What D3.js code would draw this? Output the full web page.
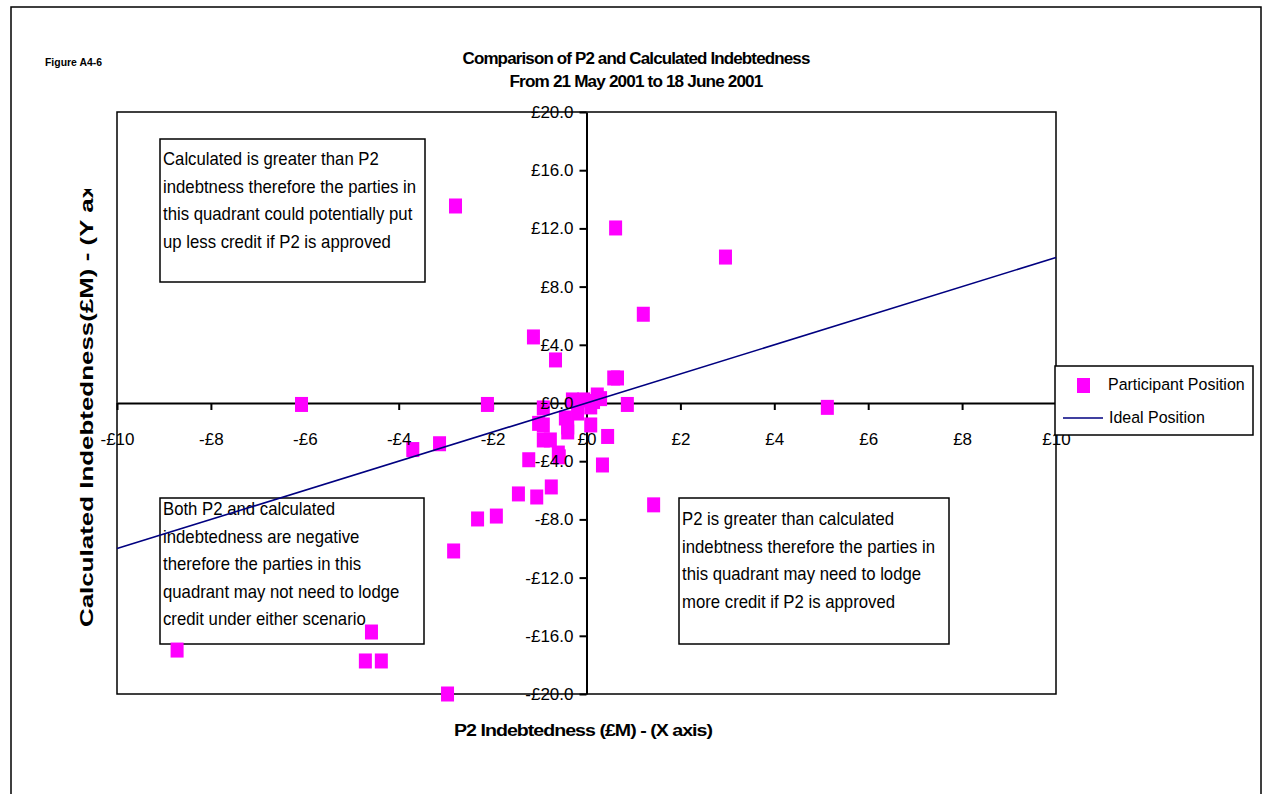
<!DOCTYPE html>
<html><head><meta charset="utf-8">
<script src="https://cdn.jsdelivr.net/npm/d3@7"></script>
<style>
body{margin:0;background:#fff;}
svg{display:block;}
text{font-family:"Liberation Sans",Arial,sans-serif;fill:#000;}
</style>
</head><body>
<svg id="c" width="1265" height="794"></svg>
<script>
// ---- data ----
const participantX = [-2.79, 0.62, 2.96, 1.21, -1.13, -0.66, -6.07, -2.11, 5.13, 0.87,
  0.58, 0.66, -3.70, -3.13, -1.23, -0.58, 0.45, 0.34, 1.43, -1.45,
  -1.06, -0.75, -2.32, -1.92, -2.83, -8.72, -4.58, -4.71, -4.37, -2.96,
  -0.92, -0.30, -0.06, 0.23, 0.09, -0.19, -0.45, -0.92, -0.40, 0.09,
  -0.92, -0.77, -0.60, 0.30, -1.02, -0.40, 0.15];
const participantY = [13.54, 12.03, 10.03, 6.10, 4.54, 2.96, -0.10, -0.10, -0.30, -0.10,
  1.72, 1.72, -3.20, -2.80, -3.90, -3.70, -2.30, -4.26, -7.00, -6.25,
  -6.46, -5.77, -7.97, -7.77, -10.17, -16.98, -15.74, -17.73, -17.73, -20.00,
  -0.34, 0.21, 0.21, 0.55, -0.27, -0.69, -1.03, -1.51, -1.99, -1.51,
  -2.54, -2.54, -3.44, 0.30, -1.40, -1.65, 0.10];
const idealX = [-10, 10];
const idealY = [-10, 10];
const xTicks = [-10, -8, -6, -4, -2, 0, 2, 4, 6, 8, 10];
const yTicks = [-20, -16, -12, -8, -4, 0, 4, 8, 12, 16, 20];
const titleLines = ["Comparison of P2 and Calculated Indebtedness", "From 21 May 2001 to 18 June 2001"];
const legendLabels = ["Participant Position", "Ideal Position"];
const box1Lines = ["Calculated is greater than P2", "indebtness therefore the parties in", "this quadrant could potentially put", "up less credit if P2 is approved"];
const box2Lines = ["Both P2 and calculated", "indebtedness are negative", "therefore the parties in this", "quadrant may not need to lodge", "credit under either scenario"];
const box3Lines = ["P2 is greater than calculated", "indebtness therefore the parties in", "this quadrant may need to lodge", "more credit if P2 is approved"];

// ---- layout ----
const svg = d3.select("#c");
const L = 117, R = 1056, T = 112, B = 694;
const x = d3.scaleLinear().domain([-10, 10]).range([L, R]);
const y = d3.scaleLinear().domain([-20, 20]).range([B, T]);
const PINK = "#FF00FF", NAVY = "#000080";

const fmtX = v => (v < 0 ? "-£" : "£") + Math.abs(v);
const fmtY = v => (v < 0 ? "-£" : "£") + Math.abs(v).toFixed(1);

// outer frame
svg.append("rect").attr("x", 11).attr("y", 7).attr("width", 1250).attr("height", 800)
  .attr("fill", "none").attr("stroke", "#000").attr("stroke-width", 1.5);

// figure label
svg.append("text").attr("x", 45).attr("y", 66).attr("font-size", 10).attr("font-weight", "bold")
  .attr("textLength", 57).attr("lengthAdjust", "spacingAndGlyphs").text("Figure A4-6");

// title
const titleW = [347, 253];
titleLines.forEach((t, i) => {
  svg.append("text").attr("x", 636).attr("y", 64 + i * 23).attr("text-anchor", "middle")
    .attr("font-size", 16).attr("font-weight", "bold").attr("letter-spacing", -0.8)
    .attr("textLength", titleW[i]).attr("lengthAdjust", "spacingAndGlyphs").text(t);
});

// plot border
svg.append("rect").attr("x", L).attr("y", T).attr("width", R - L).attr("height", B - T)
  .attr("fill", "none").attr("stroke", "#000").attr("stroke-width", 1.5);

// axis lines + ticks (labels drawn later on top)
const xAxisLines = svg.append("g").attr("transform", `translate(0,${y(0)})`)
  .call(d3.axisBottom(x).tickValues(xTicks).tickSize(7).tickSizeOuter(0).tickFormat(""));
const yAxisLines = svg.append("g").attr("transform", `translate(${x(0)},0)`)
  .call(d3.axisLeft(y).tickValues(yTicks).tickSize(7).tickSizeOuter(0).tickFormat(""));
[xAxisLines, yAxisLines].forEach(g => {
  g.selectAll("path,line").attr("stroke", "#000").attr("stroke-width", 2);
});

// text boxes (no fill)
function textBox(bx, by, bw, bh, lines, firstBase) {
  svg.append("rect").attr("x", bx).attr("y", by).attr("width", bw).attr("height", bh)
    .attr("fill", "none").attr("stroke", "#000").attr("stroke-width", 1.5);
  lines.forEach((t, i) => {
    svg.append("text").attr("transform", `translate(${bx + 3},${firstBase + i * 27.5}) scale(0.93,1)`)
      .attr("font-size", 18).text(t);
  });
}
textBox(160, 139, 265, 143, box1Lines, 165);
textBox(160, 498, 264, 146, box2Lines, 515);
textBox(679, 498, 270, 146, box3Lines, 525);

// points
svg.append("g").selectAll("rect").data(participantX.map((v, i) => [v, participantY[i]]))
  .join("rect")
  .attr("x", d => x(d[0]) - 6.5).attr("y", d => y(d[1]) - 7.5)
  .attr("width", 13).attr("height", 15).attr("fill", PINK);

// ideal line
svg.append("path").datum(idealX.map((v, i) => [v, idealY[i]]))
  .attr("d", d3.line().x(d => x(d[0])).y(d => y(d[1])))
  .attr("stroke", NAVY).attr("stroke-width", 1.6).attr("fill", "none");

// tick labels on top
const xLab = svg.append("g").attr("transform", `translate(0,${y(0)})`)
  .call(d3.axisBottom(x).tickValues(xTicks).tickSize(7).tickPadding(23).tickFormat(fmtX));
xLab.select(".domain").remove(); xLab.selectAll("line").remove();
xLab.selectAll("text").attr("font-size", 17).attr("font-family", "Liberation Sans, Arial, sans-serif");
const yLab = svg.append("g").attr("transform", `translate(${x(0)},0)`)
  .call(d3.axisLeft(y).tickValues(yTicks).tickSize(7).tickPadding(6).tickFormat(fmtY));
yLab.select(".domain").remove(); yLab.selectAll("line").remove();
yLab.selectAll("text").attr("font-size", 17).attr("font-family", "Liberation Sans, Arial, sans-serif");

// axis titles
svg.append("text").attr("x", 583).attr("y", 736).attr("text-anchor", "middle")
  .attr("font-size", 16).attr("font-weight", "bold").attr("letter-spacing", -0.8)
  .attr("textLength", 258).attr("lengthAdjust", "spacingAndGlyphs")
  .text("P2 Indebtedness (£M) - (X axis)");

svg.append("clipPath").attr("id", "yclip").append("rect")
  .attr("x", 60).attr("y", 189).attr("width", 50).attr("height", 460);
svg.append("g").attr("clip-path", "url(#yclip)")
  .append("text")
  .attr("transform", "translate(93,627) rotate(-90)")
  .attr("font-size", 18).attr("font-weight", "bold")
  .attr("textLength", 443).attr("lengthAdjust", "spacingAndGlyphs")
  .text("Calculated Indebtedness(£M) - (Y ax");

// legend
const lg = svg.append("g");
lg.append("rect").attr("x", 1055).attr("y", 366).attr("width", 198).attr("height", 69)
  .attr("fill", "#fff").attr("stroke", "#000").attr("stroke-width", 1.5);
lg.append("rect").attr("x", 1077).attr("y", 378).attr("width", 13).attr("height", 15).attr("fill", PINK);
lg.append("line").attr("x1", 1063).attr("x2", 1103).attr("y1", 418).attr("y2", 418)
  .attr("stroke", NAVY).attr("stroke-width", 1.6);
lg.append("text").attr("transform", "translate(1108,390) scale(0.94,1)").attr("font-size", 17).text(legendLabels[0]);
lg.append("text").attr("transform", "translate(1109,423) scale(0.94,1)").attr("font-size", 17).text(legendLabels[1]);
</script>
</body></html>
